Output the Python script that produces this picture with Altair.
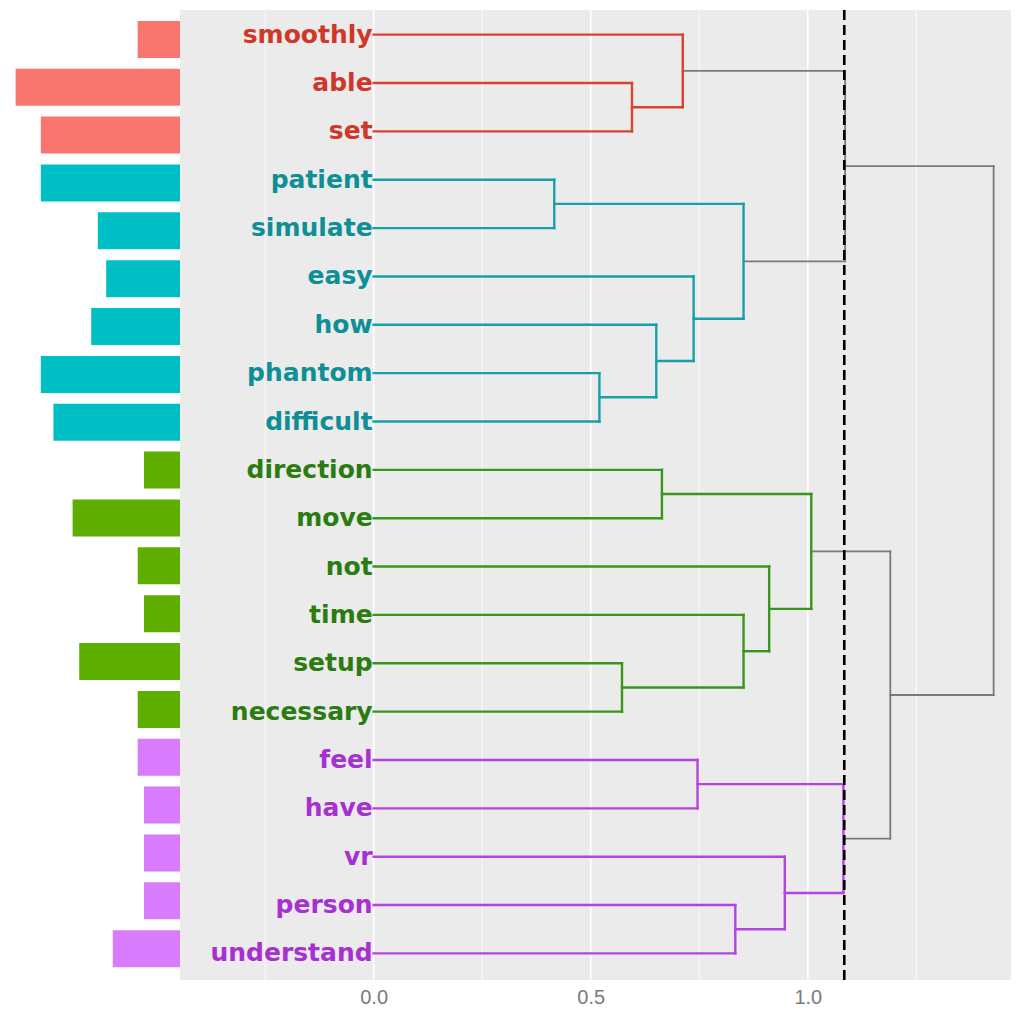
import altair as alt
import pandas as pd

# ---- data ----
words = ["smoothly", "able", "set", "patient", "simulate", "easy", "how", "phantom",
         "difficult", "direction", "move", "not", "time", "setup", "necessary",
         "feel", "have", "vr", "person", "understand"]
freq = [7.05, 27.4, 23.2, 23.2, 13.7, 12.3, 14.8, 23.2, 21.1, 6.0, 17.9, 7.05,
        6.0, 16.8, 7.05, 7.05, 6.0, 6.0, 6.0, 11.2]
cluster = ["c1"] * 3 + ["c2"] * 6 + ["c3"] * 6 + ["c4"] * 5

# merges (scipy style: leaves 0..19, new nodes 20..)
merge_a = [1, 0, 3, 7, 6, 5, 22, 9, 13, 12, 11, 27, 15, 18, 17, 32, 21, 31, 36]
merge_b = [2, 20, 4, 8, 23, 24, 25, 10, 14, 28, 29, 30, 16, 19, 33, 34, 26, 35, 37]
merge_h = [0.595, 0.712, 0.416, 0.520, 0.651, 0.737, 0.852, 0.664, 0.572, 0.852,
           0.911, 1.008, 0.746, 0.833, 0.947, 1.082, 1.086, 1.190, 1.428]
merge_grp = ["c1", "c1", "c2", "c2", "c2", "c2", "c2", "c3", "c3", "c3", "c3", "c3",
             "c4", "c4", "c4", "c4", "root", "root", "root"]
cut_height = 1.084

major_grid = [0.0, 0.5, 1.0]
minor_grid = [-0.25, 0.25, 0.75, 1.25]

grp_domain = ["c1", "c2", "c3", "c4", "root"]
line_colors = ["#D9432F", "#17A1A6", "#3A961B", "#B444DF", "#808080"]
text_colors = ["#CF3828", "#0D8F95", "#2B7C10", "#A631D0", "#808080"]
bar_colors = ["#F8766D", "#00BFC4", "#5EAE00", "#D87BFC", "#808080"]

# ---- build tables ----
pos = {i: i + 1 for i in range(len(words))}
hgt = {i: 0.0 for i in range(len(words))}
segs = []
for k, (a, b, h, g) in enumerate(zip(merge_a, merge_b, merge_h, merge_grp)):
    node = len(words) + k
    segs.append(dict(x=h, x2=h, y=pos[a], y2=pos[b], grp=g))
    segs.append(dict(x=hgt[a], x2=h, y=pos[a], y2=pos[a], grp=g))
    segs.append(dict(x=hgt[b], x2=h, y=pos[b], y2=pos[b], grp=g))
    pos[node] = (pos[a] + pos[b]) / 2
    hgt[node] = h
seg_df = pd.DataFrame(segs)

leaf_df = pd.DataFrame({"word": words, "freq": freq, "grp": cluster,
                        "y": [i + 1 for i in range(len(words))]})
grid_df = pd.DataFrame({"g": major_grid + minor_grid,
                        "kind": ["major"] * len(major_grid) + ["minor"] * len(minor_grid)})
cut_df = pd.DataFrame({"cut": [cut_height]})

H = 970
yscale = alt.Scale(domain=[0.49, 20.55], reverse=True, nice=False, zero=False)
xscale = alt.Scale(domain=[-0.446, 1.468], nice=False, zero=False)
xaxis = alt.Axis(values=major_grid, format=".1f", grid=False, ticks=False, domain=False,
                 labelFontSize=20, labelColor="#7A7A7A", labelFont="Liberation Sans",
                 labelPadding=7, title=None)

def X(field):
    return alt.X(field, type="quantitative", scale=xscale, axis=xaxis, title=None)

Y = lambda f: alt.Y(f, type="quantitative", scale=yscale, axis=None)

grid_major = alt.Chart(grid_df).transform_filter(alt.datum.kind == "major").mark_rule(
    color="white", strokeWidth=1.6).encode(x=X("g"))
grid_minor = alt.Chart(grid_df).transform_filter(alt.datum.kind == "minor").mark_rule(
    color="white", strokeWidth=0.8).encode(x=X("g"))

colored = alt.Chart(seg_df).transform_filter(alt.datum.grp != "root").mark_rule(
    strokeWidth=2.4, strokeCap="square").encode(
    x=X("x"), x2="x2", y=Y("y"), y2="y2",
    color=alt.Color("grp:N", scale=alt.Scale(domain=grp_domain, range=line_colors), legend=None))
gray = alt.Chart(seg_df).transform_filter(alt.datum.grp == "root").mark_rule(
    strokeWidth=1.8, strokeCap="square", color="#7A7A7A").encode(
    x=X("x"), x2="x2", y=Y("y"), y2="y2")

cut = alt.Chart(cut_df).mark_rule(color="black", strokeWidth=2.6, strokeDash=[10, 5]).encode(
    x=X("cut"))

labels = alt.Chart(leaf_df).mark_text(
    align="right", baseline="middle", font="DejaVu Sans", fontWeight="bold",
    fontSize=25, dx=-1).encode(
    x=alt.datum(0), y=Y("y"), text="word:N",
    color=alt.Color("grp:N", scale=alt.Scale(domain=grp_domain, range=text_colors), legend=None))

dend = alt.layer(grid_minor, grid_major, gray, colored, cut, labels).resolve_scale(
    color="independent").properties(
    width=831, height=H, view=alt.ViewBackground(fill="#EBEBEB", stroke=None))

bars = alt.Chart(leaf_df).mark_bar(size=37, orient="horizontal").encode(
    x=alt.X("freq:Q", scale=alt.Scale(domain=[0, 28.67], reverse=True, nice=False, zero=True),
            axis=None),
    y=Y("y"),
    color=alt.Color("grp:N", scale=alt.Scale(domain=grp_domain, range=bar_colors), legend=None),
).properties(width=172, height=H, view=alt.ViewBackground(fill="white", stroke=None))

chart = alt.hconcat(bars, dend, spacing=0).resolve_scale(color="independent").properties(
    padding=0).configure_view(stroke=None)

chart.save("out.html", embed_options={"renderer": "svg", "actions": False})
